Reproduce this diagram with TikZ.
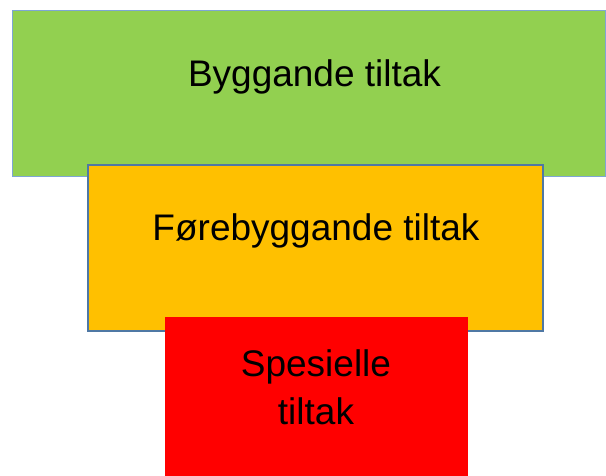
\documentclass[tikz,border=0pt]{standalone}
\usepackage{fontspec}
\setmainfont{Liberation Sans}
\definecolor{tiltakgreen}{HTML}{92D050}
\definecolor{tiltakorange}{HTML}{FFC000}
\definecolor{tiltakred}{HTML}{FF0000}
\definecolor{lightedge}{HTML}{7EA6D4}
\definecolor{darkedge}{HTML}{4F78A4}
\tikzset{
  boxlabel/.style={anchor=base,inner sep=0pt,font=\fontsize{37}{47}\selectfont},
}
\begin{document}
\begin{tikzpicture}[x=1pt,y=-1pt] % three stacked boxes
        \useasboundingbox (0,0) rectangle (606,476);
        \filldraw[fill=tiltakgreen,draw=lightedge,line width=1pt](12,11) rectangle (605,177);
        \filldraw[fill=tiltakorange,draw=darkedge,line width=2pt](88,165) rectangle (543,331);
        \fill[tiltakred](165,317) rectangle (468,476);
        \node[boxlabel] (bygg) at (314.5,87) {Byggande tiltak};
        \node[boxlabel] (foreb) at (316,241) {Førebyggande tiltak};
        \node[boxlabel] (spes1) at (316,377) {Spesielle};
        \node[boxlabel] (spes2) at (316,424) {tiltak};
   \end{tikzpicture}
\end{document}
